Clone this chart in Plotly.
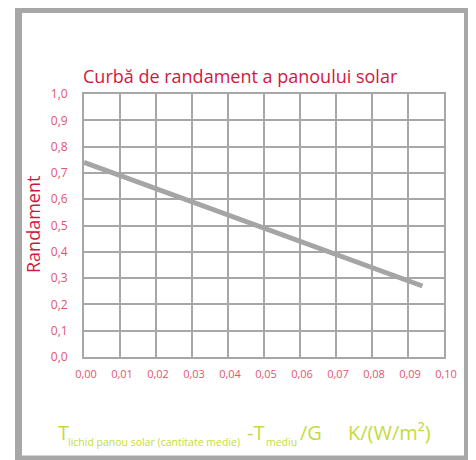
import plotly.graph_objects as go

# data
x_vals = [0.0, 0.094]
eff_vals = [0.74, 0.27]
x_ticks = [0.0, 0.01, 0.02, 0.03, 0.04, 0.05, 0.06, 0.07, 0.08, 0.09, 0.10]
y_ticks = [0.0, 0.1, 0.2, 0.3, 0.4, 0.5, 0.6, 0.7, 0.8, 0.9, 1.0]
title_text = "Curbă de randament a panoului solar"
y_title = "Randament"

OFF = 8  # page body margin
W, H = 476 - OFF, 460 - OFF
# plot area in page pixels
PL, PR, PT, PB = 84, 444, 94, 357
L, R, T, B = PL - OFF, W - (PR - OFF), PT - OFF, H - (PB - OFF)
pw, ph = W - L - R, H - T - B

def px(xp):
    return (xp - PL) / pw

def py(yp):
    return (PB - yp) / ph

GRAY = "#a7a7a7"
RED = "#d2173f"
PINK = "#e2556f"
GREEN = "#c3dc3c"
FONT = "Open Sans"

fig = go.Figure()
fig.add_trace(go.Scatter(x=x_vals, y=eff_vals, mode="lines",
                         line=dict(color="#a5a5a5", width=5),
                         hoverinfo="skip", showlegend=False))

def txt(text, xpage, ypage, size, color, xanchor="left", yanchor="middle", angle=0):
    return dict(text=text, xref="paper", yref="paper",
                x=px(xpage), y=py(ypage), xanchor=xanchor, yanchor=yanchor,
                textangle=angle, showarrow=False,
                font=dict(family=FONT, size=size, color=color))

big = 20
small = 10.5
ann = [
    txt(title_text, 81, 76, 18, RED),
    txt(y_title, 33, 225, 18, RED, xanchor="center", angle=-90),
    txt("T", 56, 432, big, GREEN),
    txt("lichid panou solar (cantitate medie)", 66, 442, small, GREEN),
    txt("-T", 245, 432, big, GREEN),
    txt("mediu", 264, 442, small, GREEN),
    txt("/G", 298, 432, big, GREEN),
    txt("K/(W/m²)", 346, 432, big, GREEN),
]

fig.update_layout(
    width=W, height=H,
    margin=dict(l=L, r=R, t=T, b=B, pad=0),
    paper_bgcolor="white", plot_bgcolor="white",
    separators=", ",
    showlegend=False,
    xaxis=dict(range=[0, 0.1], tickvals=x_ticks, tickformat=".2f",
               showgrid=True, gridcolor=GRAY, gridwidth=2,
               showline=True, linecolor=GRAY, linewidth=2, mirror=True,
               zeroline=False, ticks="", ticklabelstandoff=6,
               ticklabelshift=2,
               tickfont=dict(family=FONT, size=11, color=PINK)),
    yaxis=dict(range=[0, 1.0], tickvals=y_ticks, tickformat=".1f",
               showgrid=True, gridcolor=GRAY, gridwidth=2,
               showline=True, linecolor=GRAY, linewidth=2, mirror=True,
               zeroline=False, ticks="", ticklabelstandoff=12,
               tickfont=dict(family=FONT, size=12, color=PINK)),
    shapes=[dict(type="rect", xref="paper", yref="paper",
                 x0=px(18.5), x1=px(467.5), y0=py(459), y1=py(9.5),
                 line=dict(color=GRAY, width=7), fillcolor="rgba(0,0,0,0)",
                 layer="below")],
    annotations=ann,
)

fig.write_html("out.html")
